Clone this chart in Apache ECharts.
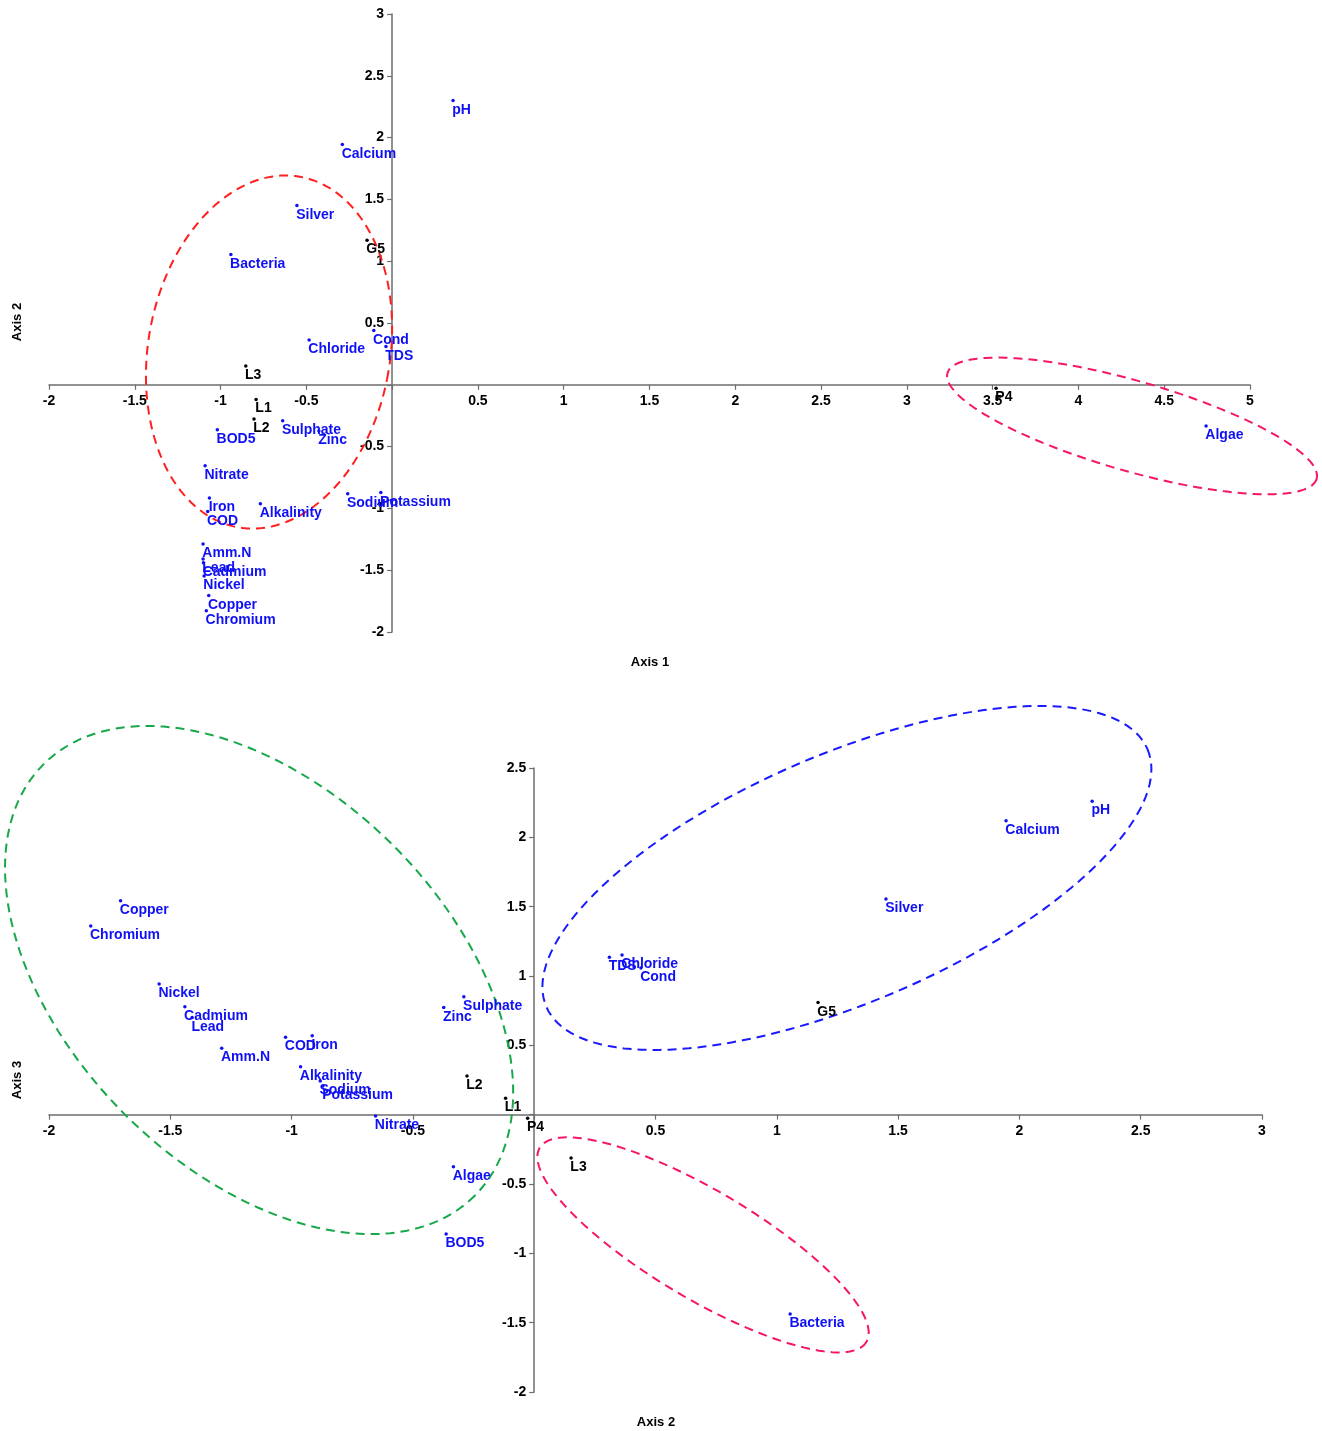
<!DOCTYPE html>
<html>
<head>
<meta charset="utf-8">
<script src="https://cdn.jsdelivr.net/npm/echarts@6/dist/echarts.min.js"></script>
<style>
  html, body { margin: 0; padding: 0; background: #fff; }
  #chart { width: 1322px; height: 1431px; }
</style>
</head>
<body>
<div id="chart"></div>
<script>
// variable scores on the three axes
const varNames = ['pH', 'Calcium', 'Silver', 'Bacteria', 'Chloride', 'Cond', 'TDS', 'Sulphate', 'Zinc', 'BOD5',
  'Nitrate', 'Iron', 'COD', 'Alkalinity', 'Sodium', 'Potassium', 'Amm.N', 'Lead', 'Cadmium', 'Nickel',
  'Copper', 'Chromium', 'Algae'];
const varAxis1 = [0.355, -0.29, -0.555, -0.94, -0.484, -0.107, -0.036, -0.638, -0.427, -1.019,
  -1.09, -1.065, -1.075, -0.768, -0.259, -0.066, -1.102, -1.102, -1.10, -1.096,
  -1.069, -1.083, 4.744];
const varAxis2 = [2.30, 1.945, 1.45, 1.055, 0.362, 0.44, 0.31, -0.29, -0.373, -0.363,
  -0.654, -0.915, -1.025, -0.963, -0.882, -0.871, -1.288, -1.41, -1.44, -1.546,
  -1.705, -1.828, -0.333];
const varAxis3 = [2.26, 2.12, 1.555, -1.437, 1.151, 1.058, 1.135, 0.851, 0.772, -0.86,
  -0.009, 0.57, 0.558, 0.346, 0.243, 0.206, 0.479, 0.70, 0.779, 0.942,
  1.543, 1.36, -0.375];

// site scores
const siteNames = ['G5', 'L3', 'L1', 'L2', 'P4'];
const siteAxis1 = [-0.146, -0.853, -0.793, -0.805, 3.52];
const siteAxis2 = [1.17, 0.152, -0.118, -0.277, -0.027];
const siteAxis3 = [0.808, -0.312, 0.118, 0.279, -0.026];

// group outlines: centre (data units), radii (px), tilt (deg)
const ringsTop = [[-0.7175, 0.265, 121, 178, 10], [4.3125, -0.333, 192, 45, 16]];
const ringsTopColors = ['#ff1f1f', '#f5166a'];
const ringsBottom = [[-1.134, 0.971, 305, 190, 45], [1.289, 1.707, 327, 124, -23.2], [0.696, -0.939, 190, 54, 30.7]];
const ringsBottomColors = ['#17a84a', '#1a1aff', '#f5166a'];

const FONT = 'Liberation Sans, Arial, sans-serif';
const BLUE = '#1010f5';

// panel frames (px)
const top1 = { left: 49, top: 14, width: 1201, height: 618 };
const bot1 = { left: 49, top: 768, width: 1213, height: 624 };

function pairs(xs, ys, names) {
  return names.map((n, i) => ({ name: n, value: [xs[i], ys[i]] }));
}

function tickLabel(v) {
  return v === 0 ? '' : String(v);
}

// shift an axis from the grid edge onto the other axis' zero line
function zeroOffset(min, max, size) {
  return -size * (0 - min) / (max - min);
}

function makeAxis(gridIndex, min, max, isX, offset) {
  return {
    type: 'value',
    gridIndex: gridIndex,
    min: min,
    max: max,
    interval: 0.5,
    position: isX ? 'bottom' : 'left',
    offset: offset,
    splitLine: { show: false },
    axisLine: { show: true, onZero: false, lineStyle: { color: '#6e6e6e', width: 1.5 } },
    axisTick: { show: true, length: 5, lineStyle: { color: '#6e6e6e', width: 1.2 } },
    axisLabel: {
      show: true,
      margin: isX ? 9 : 8,
      color: '#000',
      fontFamily: FONT,
      fontWeight: 'bold',
      fontSize: 14,
      formatter: tickLabel,
      showMinLabel: true,
      showMaxLabel: true
    }
  };
}

function ringRenderer(colors) {
  return function (params, api) {
    const c = api.coord([api.value(0), api.value(1)]);
    const rx = api.value(2), ry = api.value(3);
    const phi = api.value(4) * Math.PI / 180;
    const pts = [];
    for (let i = 0; i < 160; i++) {
      const t = i / 160 * Math.PI * 2;
      const ex = rx * Math.cos(t), ey = ry * Math.sin(t);
      pts.push([c[0] + ex * Math.cos(phi) - ey * Math.sin(phi), c[1] + ex * Math.sin(phi) + ey * Math.cos(phi)]);
    }
    return {
      type: 'polygon',
      shape: { points: pts },
      style: { fill: 'none', stroke: colors[params.dataIndex], lineWidth: 2, lineDash: [9, 6] }
    };
  };
}

function pointSeries(xi, yi, data, color) {
  return {
    type: 'scatter',
    xAxisIndex: xi,
    yAxisIndex: yi,
    data: data,
    symbolSize: 3.5,
    itemStyle: { color: color, opacity: 1 },
    label: {
      show: true,
      position: [1, 4],
      align: 'left',
      verticalAlign: 'top',
      formatter: '{b}',
      color: color,
      opacity: 1,
      textBorderWidth: 0,
      fontFamily: FONT,
      fontWeight: 'bold',
      fontSize: 14
    },
    emphasis: { disabled: true },
    z: 3
  };
}

function axisTitle(x, y, text, vertical) {
  return {
    type: 'text',
    x: x,
    y: y,
    rotation: vertical ? Math.PI / 2 : 0,
    style: {
      text: text,
      fill: '#000',
      font: 'bold 13px ' + FONT,
      textAlign: 'center',
      textVerticalAlign: 'middle'
    }
  };
}

const chart = echarts.init(document.getElementById('chart'));

const option = {
  backgroundColor: '#fff',
  animation: false,
  grid: [top1, bot1],
  xAxis: [
    makeAxis(0, -2, 5, true, zeroOffset(-2, 3, top1.height)),
    makeAxis(1, -2, 3, true, zeroOffset(-2, 2.5, bot1.height))
  ],
  yAxis: [
    makeAxis(0, -2, 3, false, zeroOffset(-2, 5, top1.width)),
    makeAxis(1, -2, 2.5, false, zeroOffset(-2, 3, bot1.width))
  ],
  graphic: [
    axisTitle(650, 662, 'Axis 1', false),
    axisTitle(17, 322, 'Axis 2', true),
    axisTitle(656, 1422, 'Axis 2', false),
    axisTitle(17, 1080, 'Axis 3', true)
  ],
  series: [
    {
      type: 'custom', xAxisIndex: 0, yAxisIndex: 0, clip: false,
      data: ringsTop, encode: { x: 0, y: 1 },
      renderItem: ringRenderer(ringsTopColors), silent: true, z: 2
    },
    {
      type: 'custom', xAxisIndex: 1, yAxisIndex: 1, clip: false,
      data: ringsBottom, encode: { x: 0, y: 1 },
      renderItem: ringRenderer(ringsBottomColors), silent: true, z: 2
    },
    pointSeries(0, 0, pairs(varAxis1, varAxis2, varNames), BLUE),
    pointSeries(0, 0, pairs(siteAxis1, siteAxis2, siteNames), '#000'),
    pointSeries(1, 1, pairs(varAxis2, varAxis3, varNames), BLUE),
    pointSeries(1, 1, pairs(siteAxis2, siteAxis3, siteNames), '#000')
  ]
};

chart.setOption(option);
</script>
</body>
</html>
